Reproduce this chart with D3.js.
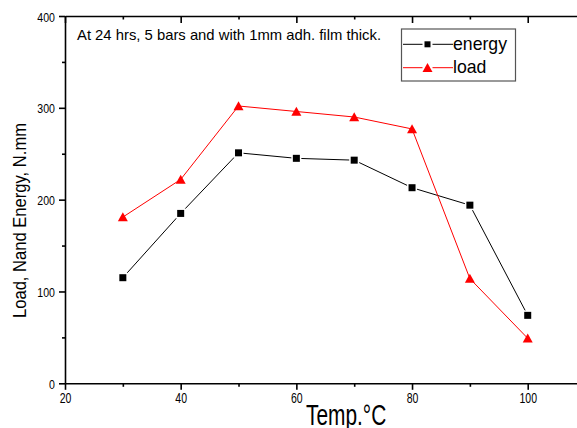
<!DOCTYPE html>
<html lang="en">
<head>
<meta charset="UTF-8">
<title>Load and Energy vs Temp</title>
<script src="https://cdn.jsdelivr.net/npm/d3@7"></script>
<style>
    body { margin: 0; background: #fff; }
    svg { display: block; }
    text { font-family: "Liberation Sans", Arial, sans-serif; fill: #000; }
    .axis path, .axis line { stroke: #000; stroke-width: 1.6px; }
</style>
</head>
<body>
<script>
    // data
    var temps = [30, 40, 50, 60, 70, 80, 90, 100];
    var energy = [115, 185, 251, 245, 243, 213, 194, 74];
    var load = [181, 222, 302, 296, 290, 277, 114, 49];
    var xMajor = [20, 40, 60, 80, 100];
    var xMinor = [30, 50, 70, 90];
    var yMajor = [0, 100, 200, 300, 400];
    var yMinor = [50, 150, 250, 350];
    var seriesNames = ["energy", "load"];

    var W = 577, H = 428;
    var mLeft = 65, mTop = 16, mBottom = 383.3;

    var svg = d3.select("body").append("svg")
        .attr("width", W)
        .attr("height", H);

    // x runs past the right edge, the original is cropped there
    var x = d3.scaleLinear().domain([20, 120]).range([mLeft, mLeft + 578.4]);
    var y = d3.scaleLinear().domain([0, 400]).range([mBottom, mTop]);

    // squeeze text horizontally like the original export
    function squeeze(sel, k) {
        sel.each(function() {
            var w = this.getComputedTextLength();
            d3.select(this).attr("textLength", w * k).attr("lengthAdjust", "spacingAndGlyphs");
        });
    }

    // bottom axis
    var gx = svg.append("g").attr("class", "axis")
        .attr("transform", "translate(0," + mBottom + ")")
        .call(d3.axisBottom(x).tickValues(xMajor).tickSize(6.5).tickPadding(3).tickSizeOuter(0));
    gx.selectAll("text").style("font-size", "15px");
    squeeze(gx.selectAll("text"), 0.7);
    svg.append("g").attr("class", "axis")
        .attr("transform", "translate(0," + mBottom + ")")
        .call(d3.axisBottom(x).tickValues(xMinor).tickSize(3.5).tickFormat("").tickSizeOuter(0))
        .select(".domain").remove();

    // top axis, ticks point inward
    svg.append("g").attr("class", "axis")
        .attr("transform", "translate(0," + mTop + ")")
        .call(d3.axisBottom(x).tickValues(xMajor).tickSize(7).tickFormat("").tickSizeOuter(0));
    svg.append("g").attr("class", "axis")
        .attr("transform", "translate(0," + mTop + ")")
        .call(d3.axisBottom(x).tickValues(xMinor).tickSize(3.5).tickFormat("").tickSizeOuter(0))
        .select(".domain").remove();

    // left axis
    var gy = svg.append("g").attr("class", "axis")
        .attr("transform", "translate(" + mLeft + ",0)")
        .call(d3.axisLeft(y).tickValues(yMajor).tickSize(6).tickPadding(4).tickSizeOuter(0));
    gy.selectAll("text").style("font-size", "12px").attr("dy", "0.42em");
    squeeze(gy.selectAll("text"), 0.88);
    svg.append("g").attr("class", "axis")
        .attr("transform", "translate(" + mLeft + ",0)")
        .call(d3.axisLeft(y).tickValues(yMinor).tickSize(3).tickFormat("").tickSizeOuter(0))
        .select(".domain").remove();

    // axis titles
    svg.append("text")
        .attr("x", 306)
        .attr("y", 425)
        .style("font-size", "29px")
        .text("Temp.°C")
        .call(squeeze, 0.72);

    svg.append("text")
        .attr("transform", "translate(25.5,220.5) rotate(-90)")
        .attr("text-anchor", "middle")
        .style("font-size", "18px")
        .text("Load, Nand Energy, N.mm")
        .attr("textLength", 195)
        .attr("lengthAdjust", "spacingAndGlyphs");

    // note in the corner
    svg.append("text")
        .attr("x", 77)
        .attr("y", 40)
        .style("font-size", "15px")
        .text("At 24 hrs, 5 bars and with 1mm adh. film thick.")
        .attr("textLength", 304)
        .attr("lengthAdjust", "spacingAndGlyphs");

    // series
    var line = d3.line()
        .x(function(d) { return x(d[0]); })
        .y(function(d) { return y(d[1]); });

    var energyPts = temps.map(function(t, i) { return [t, energy[i]]; });
    var loadPts = temps.map(function(t, i) { return [t, load[i]]; });

    svg.append("path")
        .datum(energyPts)
        .attr("d", line)
        .attr("fill", "none")
        .attr("stroke", "#000")
        .attr("stroke-width", 1);

    svg.append("path")
        .datum(loadPts)
        .attr("d", line)
        .attr("fill", "none")
        .attr("stroke", "#ff0000")
        .attr("stroke-width", 1);

    var tri = "M0,-4.8L5,4.2L-5,4.2Z";

    svg.selectAll(".sq")
        .data(energyPts)
        .enter().append("rect")
        .attr("class", "sq")
        .attr("x", function(d) { return x(d[0]) - 3.5; })
        .attr("y", function(d) { return y(d[1]) - 3.5; })
        .attr("width", 7)
        .attr("height", 7)
        .attr("fill", "#000")
        .attr("stroke", "#fff")
        .attr("stroke-width", 3)
        .style("paint-order", "stroke");

    svg.selectAll(".tri")
        .data(loadPts)
        .enter().append("path")
        .attr("class", "tri")
        .attr("transform", function(d) { return "translate(" + x(d[0]) + "," + y(d[1]) + ")"; })
        .attr("d", tri)
        .attr("fill", "#ff0000");

    // legend
    var lg = svg.append("g").attr("transform", "translate(401.5,29)");
    lg.append("rect")
        .attr("width", 114)
        .attr("height", 52)
        .attr("fill", "#fff")
        .attr("stroke", "#555")
        .attr("stroke-width", 1.2);

    var rows = [
        {name: seriesNames[0], color: "#000", y: 15.3},
        {name: seriesNames[1], color: "#ff0000", y: 38.7}
    ];
    rows.forEach(function(r, i) {
        lg.append("line").attr("x1", 1.5).attr("x2", 21).attr("y1", r.y).attr("y2", r.y)
            .attr("stroke", r.color).attr("stroke-width", 1);
        lg.append("line").attr("x1", 31).attr("x2", 51.5).attr("y1", r.y).attr("y2", r.y)
            .attr("stroke", r.color).attr("stroke-width", 1);
        if (i === 0) {
            lg.append("rect").attr("x", 23).attr("y", r.y - 3).attr("width", 6).attr("height", 6)
                .attr("fill", "#000");
        } else {
            lg.append("path").attr("transform", "translate(26," + r.y + ")").attr("d", tri)
                .attr("fill", "#ff0000");
        }
        lg.append("text")
            .attr("x", 51.5)
            .attr("y", r.y + 5.5)
            .style("font-size", "19px")
            .text(r.name)
            .call(squeeze, 0.93);
    });
</script>
</body>
</html>
